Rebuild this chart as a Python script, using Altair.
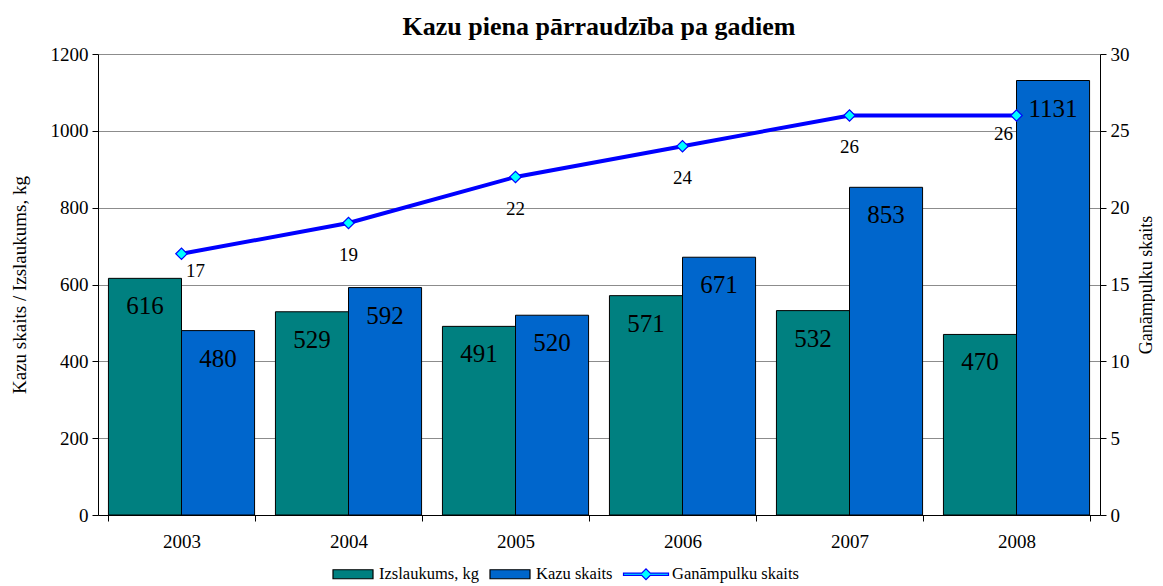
import altair as alt
import pandas as pd

years = ["2003", "2004", "2005", "2006", "2007", "2008"]
izslaukums = [616, 529, 491, 571, 532, 470]
kazu_skaits = [480, 592, 520, 671, 853, 1131]
ganampulku = [17, 19, 22, 24, 26, 26]
series_names = ["Izslaukums, kg", "Kazu skaits", "Ganāmpulku skaits"]
left_ticks = [0, 200, 400, 600, 800, 1000, 1200]
right_ticks = [0, 5, 10, 15, 20, 25, 30]

TEAL = "#008080"
BLUE = "#0066CC"
LINE = "#0000FF"
CYAN = "#00FFFF"
FONT = "Liberation Serif"

bars_df = pd.DataFrame({
    "year": years * 2,
    "series": [series_names[0]] * len(years) + [series_names[1]] * len(years),
    "value": izslaukums + kazu_skaits,
})
line_df = pd.DataFrame({"year": years, "value": ganampulku})
legend_df = pd.DataFrame({"series": series_names})

xaxis = alt.Axis(labelAngle=0, tickBand="extent", tickSize=6, labelPadding=11,
                 domainColor="black", tickColor="black", labelFont=FONT,
                 labelFontSize=19, labelColor="black", grid=False)
xenc = alt.X("year:N", scale=alt.Scale(domain=years, paddingInner=0.125, paddingOuter=0.0625),
             title=None, axis=xaxis)
xoff = alt.XOffset("series:N", scale=alt.Scale(domain=series_names[:2], paddingInner=0, paddingOuter=0))

yleft = alt.Y("value:Q", scale=alt.Scale(domain=[0, 1200], nice=False),
              title="Kazu skaits / Izslaukums, kg",
              axis=alt.Axis(values=left_ticks, format="d", grid=True, gridColor="#8c8c8c", gridWidth=1,
                            domainColor="black", tickColor="black", tickSize=6,
                            labelPadding=4, labelFont=FONT, labelFontSize=19, labelColor="black",
                            titleFont=FONT, titleFontSize=19, titleFontWeight="normal",
                            titleColor="black", titlePadding=21))

yright = alt.Y("value:Q", scale=alt.Scale(domain=[0, 30], nice=False),
               title="Ganāmpulku skaits",
               axis=alt.Axis(orient="right", values=right_ticks, format="d", grid=False,
                             domainColor="black", tickColor="black", tickSize=6,
                             labelPadding=4, labelFont=FONT, labelFontSize=19, labelColor="black",
                             titleFont=FONT, titleFontSize=18, titleFontWeight="normal",
                             titleColor="black", titlePadding=26, titleAngle=270))

bars = alt.Chart(bars_df).mark_bar(stroke="black", strokeWidth=1).encode(
    x=xenc, xOffset=xoff, y=yleft,
    fill=alt.Fill("series:N", scale=alt.Scale(domain=series_names[:2], range=[TEAL, BLUE]), legend=None),
)
bar_text = alt.Chart(bars_df).mark_text(font=FONT, fontSize=25, color="black",
                                        baseline="middle", dy=28).encode(
    x=xenc, xOffset=xoff, y=yleft, text=alt.Text("value:Q"),
)

rect_path = "M-1,-0.225H1V0.225H-1Z"
line_path = ("M-1.125,-0.06H-0.215L0,-0.275L0.215,-0.06H1.125V0.06H0.215L0,0.275"
             "L-0.215,0.06H-1.125Z")
legend_dummy = alt.Chart(legend_df).mark_point(filled=True, opacity=0, size=1600).encode(
    color=alt.Color("series:N", title=None,
                    scale=alt.Scale(domain=series_names, range=[TEAL, BLUE, CYAN])),
    shape=alt.Shape("series:N", title=None,
                    scale=alt.Scale(domain=series_names, range=[rect_path, rect_path, line_path])),
    stroke=alt.Stroke("series:N", title=None,
                      scale=alt.Scale(domain=series_names, range=["black", "black", LINE])),
)

left = alt.layer(bars, bar_text, legend_dummy)

line = alt.Chart(line_df).mark_line(color=LINE, strokeWidth=4).encode(x=xenc, y=yright)
points = alt.Chart(line_df).mark_point(shape="diamond", filled=True, fill=CYAN, stroke=LINE,
                                       strokeWidth=1.2, size=130, opacity=1).encode(x=xenc, y=yright)
txt_kw = dict(font=FONT, fontSize=19, color="black", baseline="middle")
lab_first = alt.Chart(line_df).transform_filter(alt.datum.year == years[0]).mark_text(
    dx=14, dy=17, **txt_kw).encode(x=xenc, y=yright, text="value:Q")
lab_mid = alt.Chart(line_df).transform_filter(
    (alt.datum.year != years[0]) & (alt.datum.year != years[-1])).mark_text(
    dy=32, **txt_kw).encode(x=xenc, y=yright, text="value:Q")
lab_last = alt.Chart(line_df).transform_filter(alt.datum.year == years[-1]).mark_text(
    dx=-13, dy=19, **txt_kw).encode(x=xenc, y=yright, text="value:Q")

right = alt.layer(line, points, lab_first, lab_mid, lab_last)

chart = alt.layer(left, right).resolve_scale(y="independent").properties(
    width=1002, height=461,
    autosize="none",
    padding={"left": 90, "top": 46, "right": 55, "bottom": 68},
    title=alt.TitleParams("Kazu piena pārraudzība pa gadiem", font=FONT, fontSize=26,
                          fontWeight="bold", color="black", offset=5, anchor="middle"),
).configure(font=FONT).configure_axis(
    labelFont=FONT, titleFont=FONT
).configure_view(stroke=None).configure_legend(
    orient="none", legendX=234, legendY=499, direction="horizontal",
    labelFont=FONT, labelFontSize=16.5, labelColor="black", symbolSize=1600,
    symbolOpacity=1, symbolStrokeWidth=1.2, labelOffset=5, columnPadding=8, padding=0,
)

chart.save("out.html", embed_options={"renderer": "svg", "actions": False})
